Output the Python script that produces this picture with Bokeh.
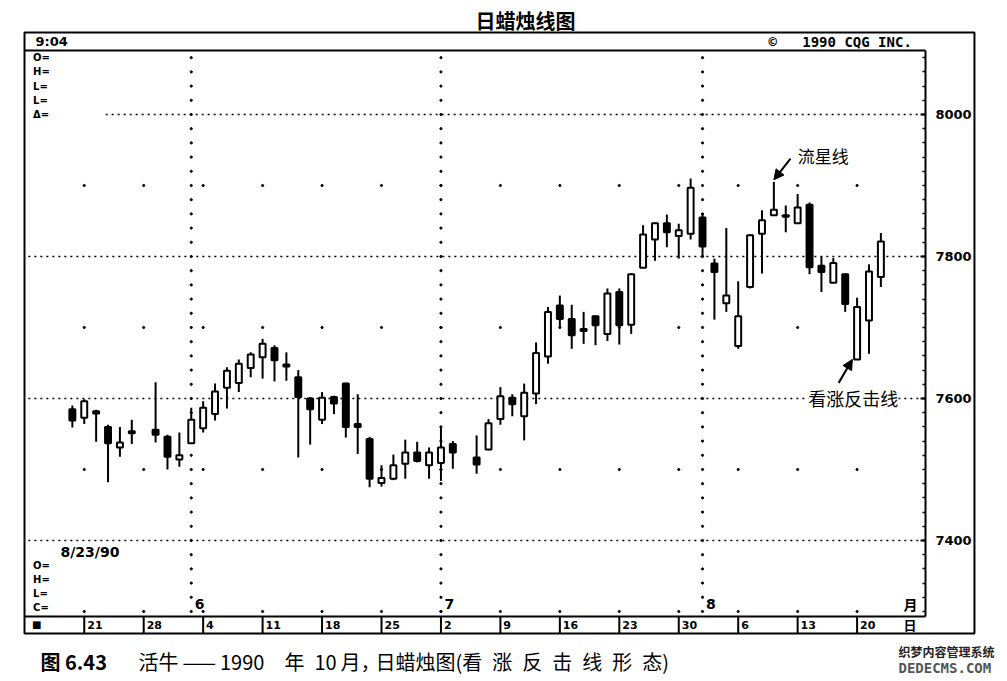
import numpy as np
from bokeh.plotting import figure
from bokeh.models import (Range1d, LinearAxis, FixedTicker, Label, Arrow,
                          NormalHead, ColumnDataSource)
from bokeh.core.properties import value
from bokeh.embed import file_html
from bokeh.resources import INLINE

# ---------------- data (live cattle, daily candles) ----------------
dates = [
    "1990-05-18", "1990-05-21", "1990-05-22", "1990-05-23", "1990-05-24", "1990-05-25",
    "1990-05-29", "1990-05-30", "1990-05-31", "1990-06-01",
    "1990-06-04", "1990-06-05", "1990-06-06", "1990-06-07", "1990-06-08",
    "1990-06-11", "1990-06-12", "1990-06-13", "1990-06-14", "1990-06-15",
    "1990-06-18", "1990-06-19", "1990-06-20", "1990-06-21", "1990-06-22",
    "1990-06-25", "1990-06-26", "1990-06-27", "1990-06-28", "1990-06-29",
    "1990-07-02", "1990-07-03", "1990-07-05", "1990-07-06",
    "1990-07-09", "1990-07-10", "1990-07-11", "1990-07-12", "1990-07-13",
    "1990-07-16", "1990-07-17", "1990-07-18", "1990-07-19", "1990-07-20",
    "1990-07-23", "1990-07-24", "1990-07-25", "1990-07-26", "1990-07-27",
    "1990-07-30", "1990-07-31", "1990-08-01", "1990-08-02", "1990-08-03",
    "1990-08-06", "1990-08-07", "1990-08-08", "1990-08-09", "1990-08-10",
    "1990-08-13", "1990-08-14", "1990-08-15", "1990-08-16", "1990-08-17",
    "1990-08-20", "1990-08-21", "1990-08-22",
]
opens = [7585, 7573, 7582, 7560, 7531, 7554, 7556, 7546, 7514, 7537,
         7558, 7578, 7615, 7622, 7643, 7658, 7671, 7648, 7630, 7600,
         7570, 7602, 7621, 7564, 7543, 7481, 7487, 7508, 7524, 7506,
         7509, 7536, 7517, 7528, 7571, 7601, 7575, 7607, 7659, 7731,
         7712, 7698, 7716, 7691, 7750, 7704, 7784, 7824, 7847, 7829,
         7832, 7855, 7790, 7734, 7674, 7757, 7832, 7858, 7858, 7847,
         7873, 7787, 7763, 7775, 7655, 7710, 7771]
highs = [7590, 7599, 7584, 7563, 7560, 7570, 7623, 7549, 7552, 7587,
         7596, 7621, 7644, 7655, 7665, 7684, 7675, 7665, 7640, 7602,
         7609, 7604, 7622, 7606, 7546, 7506, 7521, 7542, 7539, 7531,
         7561, 7540, 7548, 7571, 7616, 7606, 7621, 7679, 7729, 7745,
         7732, 7722, 7717, 7755, 7755, 7776, 7844, 7848, 7859, 7846,
         7910, 7861, 7797, 7840, 7765, 7831, 7865, 7905, 7872, 7888,
         7876, 7800, 7798, 7776, 7742, 7789, 7833]
lows = [7559, 7564, 7539, 7482, 7518, 7536, 7538, 7500, 7504, 7537,
        7552, 7569, 7586, 7609, 7630, 7628, 7624, 7625, 7517, 7535,
        7564, 7578, 7545, 7522, 7475, 7476, 7485, 7487, 7510, 7487,
        7484, 7501, 7494, 7527, 7563, 7575, 7541, 7592, 7649, 7700,
        7670, 7677, 7675, 7681, 7676, 7691, 7784, 7794, 7813, 7797,
        7824, 7799, 7711, 7722, 7670, 7755, 7776, 7857, 7834, 7847,
        7775, 7750, 7763, 7722, 7655, 7663, 7757]
closes = [7569, 7596, 7579, 7537, 7538, 7551, 7549, 7518, 7520, 7570,
          7587, 7610, 7639, 7649, 7662, 7677, 7654, 7645, 7602, 7585,
          7601, 7593, 7560, 7560, 7487, 7488, 7506, 7524, 7512, 7524,
          7531, 7524, 7507, 7565, 7603, 7592, 7608, 7664, 7722, 7712,
          7689, 7695, 7703, 7748, 7703, 7775, 7831, 7847, 7834, 7837,
          7897, 7814, 7778, 7745, 7716, 7830, 7851, 7866, 7856, 7869,
          7785, 7778, 7791, 7733, 7729, 7779, 7821]

week_starts = ["1990-05-14", "1990-05-21", "1990-05-28", "1990-06-04", "1990-06-11",
               "1990-06-18", "1990-06-25", "1990-07-02", "1990-07-09", "1990-07-16",
               "1990-07-23", "1990-07-30", "1990-08-06", "1990-08-13", "1990-08-20"]
week_labels = ["■", "21", "28", "4", "11", "18", "25", "2", "9", "16", "23", "30", "6", "13", "20"]
month_starts = ["1990-06-01", "1990-07-02", "1990-08-01"]
month_labels = ["6", "7", "8"]
price_ticks = [7400, 7600, 7800, 8000]
half_levels = [7300, 7500, 7700, 7900]

title_text = "日蜡烛线图"
caption_parts = ["图 6.43",
                 "活牛\u2009——\u20091990\u2003年\u200210\u2009月，",
                 "日蜡烛图(看\u2002涨\u2002反\u2002击\u2002线\u2002形\u2002态)"]
copyright_text = "©\u00a0\u00a0\u00a01990\u00a0CQG\u00a0INC."

# ---------------- layout constants ----------------
ORIGIN = "1990-05-14"
def slot(d):
    return int(np.busday_count(ORIGIN, d))

xs = [slot(d) for d in dates]
wk = [slot(d) for d in week_starts]
ms = [slot(d) for d in month_starts]

W, H = 1004, 678
X0, X1 = -2.0437, 82.397        # visible day-slot span of the canvas
Y0, Y1 = 7205.63, 8160.56       # visible price span of the canvas
BOX_L, BOX_R = -0.025, 79.87    # outer box
BOX_B, BOX_T = 7269.0, 8115.5
INNER_R = 75.75                 # right edge of price panel
HEAD_P = 8090.0                 # bottom of header strip
DATE_P = 7293.0                 # top of date strip

SANS = "DejaVu Sans"
CJK = "Noto Sans CJK SC"

p = figure(width=W, height=H, output_backend="svg", toolbar_location=None,
           x_range=Range1d(X0, X1), y_range=Range1d(Y0, Y1),
           x_axis_location=None, y_axis_location=None,
           min_border=0, min_border_left=0, min_border_right=0,
           min_border_top=0, min_border_bottom=0)
p.xgrid.visible = False
p.ygrid.visible = False
p.outline_line_color = None
p.background_fill_color = "white"
p.border_fill_color = "white"

# ---------------- frame chrome ----------------
p.quad(left=[BOX_L], right=[BOX_R], bottom=[BOX_B], top=[BOX_T],
       fill_color=None, line_color="black", line_width=2)
p.segment(x0=[BOX_L], y0=[HEAD_P], x1=[INNER_R], y1=[HEAD_P], line_color="black", line_width=2)
p.segment(x0=[BOX_L], y0=[DATE_P], x1=[INNER_R], y1=[DATE_P], line_color="black", line_width=2)
p.segment(x0=wk[1:], y0=[BOX_B] * (len(wk) - 1), x1=wk[1:], y1=[DATE_P] * (len(wk) - 1),
          line_color="black", line_width=2)

# ---------------- grid ----------------
h_start = [6.8 if v == 8000 else 0.3 for v in price_ticks]
p.segment(x0=h_start, y0=price_ticks, x1=[INNER_R] * len(price_ticks), y1=price_ticks,
          line_color="black", line_width=1.6, line_dash="2 4")
mx, my = [], []
for s in ms:
    for v in range(7300, 8090, 20):
        mx.append(s)
        my.append(v)
p.scatter(mx, my, size=2.2, color="black", marker="circle")
gx, gy = [], []
for s in wk[1:]:
    for v in half_levels:
        gx.append(s)
        gy.append(v)
p.scatter(gx, gy, size=2.2, color="black", marker="circle")

# ---------------- candles ----------------
o = np.array(opens); c = np.array(closes)
src = ColumnDataSource(dict(
    x=xs, high=highs, low=lows,
    top=np.maximum(o, c), bottom=np.minimum(o, c),
    fill=["black" if cc < oo else "white" for oo, cc in zip(opens, closes)]))
p.segment(x0="x", y0="low", x1="x", y1="high", source=src, line_color="black", line_width=2)
p.vbar(x="x", width=0.5, top="top", bottom="bottom", source=src,
       fill_color="fill", line_color="black", line_width=2)

# ---------------- right price axis ----------------
yax = LinearAxis(fixed_location=INNER_R,
                 ticker=FixedTicker(ticks=price_ticks, minor_ticks=list(range(7300, 8090, 20))),
                 bounds=(DATE_P, HEAD_P))
yax.axis_line_width = 2
yax.axis_line_color = "black"
yax.major_tick_in = 5
yax.major_tick_out = 0
yax.major_tick_line_width = 2
yax.minor_tick_in = 3
yax.minor_tick_out = 0
yax.minor_tick_line_width = 1.5
yax.major_label_standoff = 10
yax.major_label_text_font = SANS
yax.major_label_text_font_style = "bold"
yax.major_label_text_font_size = "13px"
yax.major_label_text_color = "black"
p.add_layout(yax, "right")

# ---------------- texts ----------------
def txt(x, y, t, size, font=SANS, style="bold", align="left", color="black"):
    p.text(x=x, y=y, text=t, text_font=value(font), text_font_size=value(size),
           text_font_style=style, text_align=align, text_baseline="middle",
           text_color=color)

head_mid = (HEAD_P + BOX_T) / 2
date_mid = (DATE_P + BOX_B) / 2
txt([37.9], [8131.7], [title_text], "20px", font=CJK)
txt([0.9], [head_mid], ["9:04"], "13px")
txt([62.55], [head_mid], [copyright_text], "14px", font="DejaVu Sans Mono")
txt([0.7] * 5, [8080, 8060, 8040, 8020, 8000], ["O=", "H=", "L=", "L=", "Δ="], "10px")
txt([3.0], [7384], ["8/23/90"], "14px")
txt([0.7] * 4, [7365, 7345, 7325, 7305], ["O=", "H=", "L=", "C="], "10px")
txt([s + 0.25 for s in wk[1:]], [date_mid] * (len(wk) - 1), week_labels[1:], "11px")
txt([0.6], [date_mid], [week_labels[0]], "10px")
txt([s + 0.3 for s in ms], [7310] * len(ms), month_labels, "14px")
txt([73.9], [7310], ["月"], "14px", font=CJK)
txt([73.9], [date_mid], ["日"], "13px", font=CJK)

# caption below the box
txt([1.32], [7229.6], [caption_parts[0]], "20px", font=CJK)
txt([9.56], [7229.6], [caption_parts[1]], "20px", font=CJK, style="normal")
txt([29.49], [7229.6], [caption_parts[2]], "20px", font=CJK, style="normal")

# watermark
txt([73.48], [7243.7], ["织梦内容管理系统"], "12px", font=CJK, color="#222222")
txt([73.48], [7221.1], ["DEDECMS.COM"], "14px", font="DejaVu Sans Mono", color="#555555")

# ---------------- annotations ----------------
p.add_layout(Label(x=65.0, y=7942, text="流星线", text_font=CJK, text_font_size="17px",
                   text_baseline="middle", text_color="black",
                   background_fill_color="white"))
p.add_layout(Arrow(end=NormalHead(size=10, fill_color="black", line_color="black"),
                   x_start=64.4, y_start=7938, x_end=63.0, y_end=7908,
                   line_color="black", line_width=2))
p.add_layout(Label(x=65.9, y=7600, text="看涨反击线", text_font=CJK, text_font_size="18px",
                   text_baseline="middle", text_color="black",
                   background_fill_color="white"))
p.add_layout(Arrow(end=NormalHead(size=10, fill_color="black", line_color="black"),
                   x_start=68.45, y_start=7622, x_end=69.6, y_end=7655,
                   line_color="black", line_width=2))

open("out.html", "w").write(file_html(p, INLINE))
